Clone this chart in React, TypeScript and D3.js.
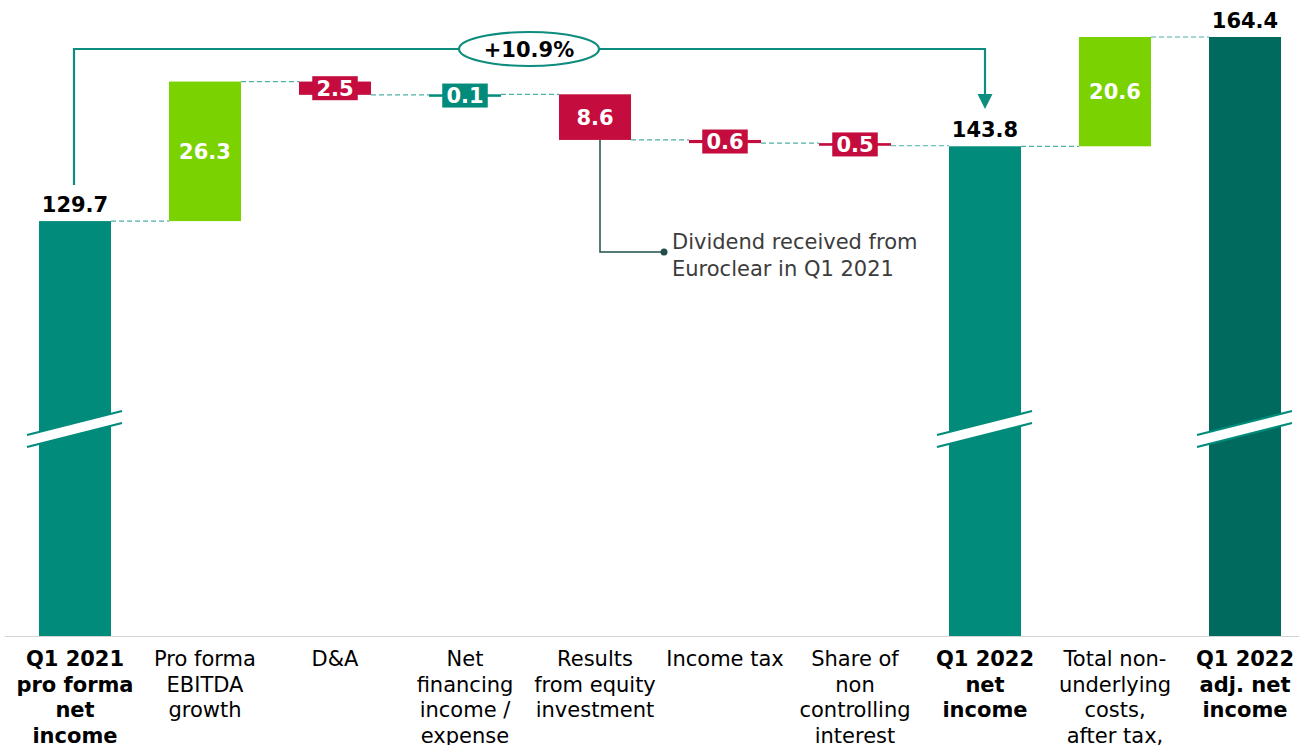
import * as d3 from "d3";
import React from "react";

const categories = ["q1_2021", "ebitda", "da", "fin", "equity", "tax", "nci", "q1_2022", "nonund", "q1_2022_adj"];
const categoryLabels = [
	["Q1 2021", "pro forma", "net", "income"],
	["Pro forma", "EBITDA", "growth"],
	["D&A"],
	["Net", "financing", "income /", "expense"],
	["Results", "from equity", "investment"],
	["Income tax"],
	["Share of", "non", "controlling", "interest"],
	["Q1 2022", "net", "income"],
	["Total non-", "underlying", "costs,", "after tax,"],
	["Q1 2022", "adj. net", "income"],
];
// total = full bar from the break, others float on the running total
const kinds = ["total", "growth", "down", "up", "down", "down", "down", "total", "growth", "adjTotal"];
const values = [129.7, 26.3, -2.5, 0.1, -8.6, -0.6, -0.5, 143.8, 20.6, 164.4];
const changeLabel = "+10.9%";
const noteLines = ["Dividend received from", "Euroclear in Q1 2021"];
const noteIndex = 4;

const colors: Record<string, string> = {
	total: "#008b7b",
	growth: "#7ad200",
	up: "#008b7b",
	down: "#c40d3e",
	adjTotal: "#006a5f",
};

const W = 1299;
const H = 745;
const FONT = "'DejaVu Sans', Verdana, sans-serif";
const baseY = 636;

export default function App() {
	const x = d3
		.scaleBand()
		.domain(categories)
		.range([10, 1310])
		.paddingInner(0.446)
		.paddingOuter(0.223);
	const floor = 51.5;
	const y = d3.scaleLinear().domain([floor, 164.4]).range([baseY, 37]);
	const bw = x.bandwidth();

	let running = 0;
	const steps = values.map((v, i) => {
		if (kinds[i] === "total" || kinds[i] === "adjTotal") {
			running = v;
			return { start: floor, end: v, level: v };
		}
		const s = running;
		running = running + v;
		return { start: s, end: running, level: running };
	});

	const firstX = (x(categories[0]) ?? 0) + bw / 2;
	const q22X = (x(categories[7]) ?? 0) + bw / 2;
	const bracketY = 49;

	const noteX = (x(categories[noteIndex]) ?? 0) + bw / 2 + 5;
	const noteTop = y(steps[noteIndex].end);

	return (
		<svg
			width={W}
			height={H}
			style={{ position: "absolute", left: 0, top: 0 }}
			fontFamily={FONT}
		>
			<rect width={W} height={H} fill="#fff" />
			{/* connectors */}
			{steps.slice(0, -1).map((s, i) => {
				const x1 = (x(categories[i]) ?? 0) + bw;
				const x2 = x(categories[i + 1]) ?? 0;
				return (
					<line
						key={"c" + i}
						x1={x1}
						x2={x2}
						y1={y(s.level)}
						y2={y(s.level)}
						stroke="#4fb0a6"
						strokeWidth={1.2}
						strokeDasharray="5,3"
					/>
				);
			})}
			{/* bars */}
			{steps.map((s, i) => {
				const top = Math.min(y(s.start), y(s.end));
				const h = Math.max(Math.abs(y(s.start) - y(s.end)), 2.5);
				const x0 = x(categories[i]) ?? 0;
				const c = colors[kinds[i]];
				const cx = x0 + bw / 2;
				const isTotal = kinds[i] === "total" || kinds[i] === "adjTotal";
				const label = Math.abs(values[i]).toFixed(1);
				const tw = label.length * 12.5;
				const mid = top + h / 2;
				return (
					<g key={"b" + i}>
						<rect x={x0} y={top} width={bw} height={h} fill={c} />
						{isTotal ? (
							<text
								x={cx}
								y={top - 9}
								textAnchor="middle"
								fontSize={21}
								fontWeight="bold"
								fill="#000"
							>
								{label}
							</text>
						) : (
							<g>
								{h < 30 && (
									<rect x={cx - tw / 2 - 4} y={mid - 12} width={tw + 8} height={24} fill={c} />
								)}
								<text
									x={cx}
									y={mid}
									dy="0.36em"
									textAnchor="middle"
									fontSize={21}
									fontWeight="bold"
									fill="#fff"
								>
									{label}
								</text>
							</g>
						)}
						{isTotal && (
							<g transform={`translate(${cx},429)`}>
								<polygon points="-48,6 47,-18 47,-6 -48,18" fill="#fff" />
								<line x1={-48} y1={6} x2={47} y2={-18} stroke="#008b7b" strokeWidth={2.2} />
								<line x1={-48} y1={18} x2={47} y2={-6} stroke="#008b7b" strokeWidth={2.2} />
							</g>
						)}
					</g>
				);
			})}
			{/* axis */}
			<line x1={5} x2={W} y1={baseY + 0.5} y2={baseY + 0.5} stroke="#d4d4d4" strokeWidth={1} />
			{categoryLabels.map((lines, i) => {
				const cx = (x(categories[i]) ?? 0) + bw / 2;
				const bold = kinds[i] === "total" || kinds[i] === "adjTotal";
				return (
					<text
						key={"l" + i}
						x={cx}
						y={666}
						textAnchor="middle"
						fontSize={21}
						fontWeight={bold ? "bold" : "normal"}
						fill="#000"
					>
						{lines.map((ln, j) => (
							<tspan key={j} x={cx} y={666 + j * 25.5}>
								{ln}
							</tspan>
						))}
					</text>
				);
			})}
			{/* growth bracket */}
			<path
				d={`M${firstX - 1},185 V${bracketY} H${q22X} V95`}
				fill="none"
				stroke="#0e8c7e"
				strokeWidth={2.2}
			/>
			<polygon
				points={`${q22X - 7.5},94 ${q22X + 7.5},94 ${q22X},109`}
				fill="#0e8c7e"
			/>
			<ellipse cx={529} cy={bracketY} rx={70} ry={17} fill="#fff" stroke="#0e8c7e" strokeWidth={2.2} />
			<text x={529} y={bracketY} dy="0.36em" textAnchor="middle" fontSize={21} fontWeight="bold" fill="#000">
				{changeLabel}
			</text>
			{/* note */}
			<path
				d={`M${noteX},${noteTop} V252 H664`}
				fill="none"
				stroke="#1f4f48"
				strokeWidth={1.5}
			/>
			<circle cx={664} cy={252} r={3.5} fill="#1f4f48" />
			<text fontSize={21} fill="#3c3c3c">
				{noteLines.map((ln, j) => (
					<tspan key={j} x={672} y={249 + j * 27}>
						{ln}
					</tspan>
				))}
			</text>
		</svg>
	);
}
